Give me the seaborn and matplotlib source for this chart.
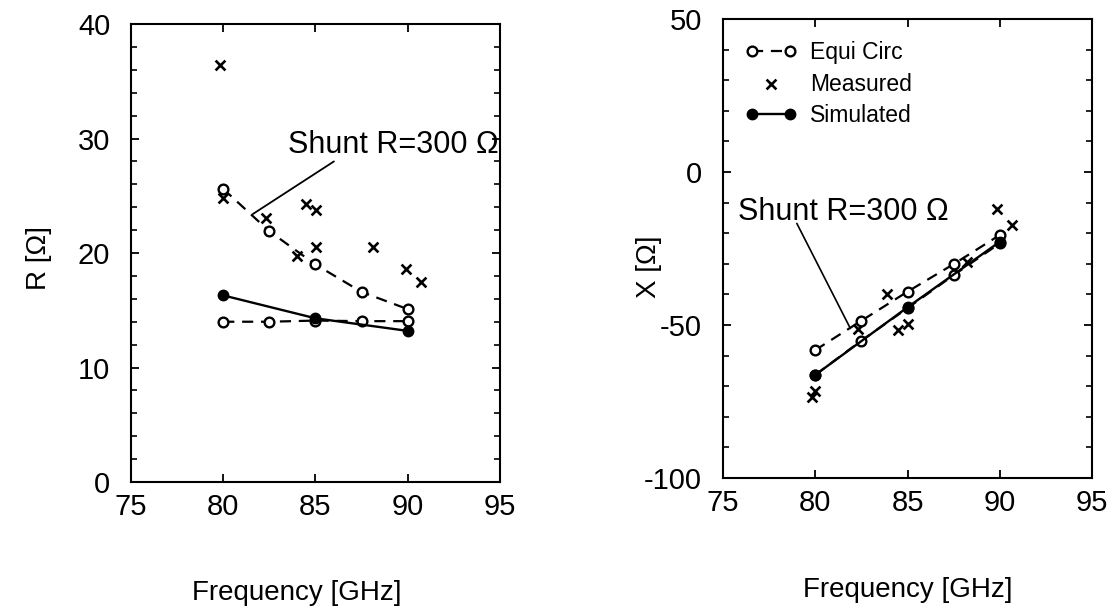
import matplotlib
matplotlib.use("Agg")
import matplotlib.pyplot as plt
from matplotlib.ticker import MultipleLocator
import seaborn as sns

# --- data ---
freq_eq = [80, 82.5, 85, 87.5, 90]
freq_sim = [80, 85, 90]

# left panel: R [Ohm]
r_eq_upper = [25.6, 21.9, 19.0, 16.6, 15.1]
r_eq_lower = [14.0, 14.0, 14.1, 14.05, 14.05]
r_sim = [16.3, 14.3, 13.2]
freq_meas_r = [79.8, 80.0, 82.3, 84.0, 84.5, 85.05, 85.05, 88.1, 89.9, 90.7]
r_meas = [36.4, 24.8, 23.1, 19.7, 24.3, 23.8, 20.5, 20.55, 18.6, 17.5]

# right panel: X [Ohm]
x_eq_upper = [-58.2, -48.6, -39.1, -30.1, -20.6]
x_eq_lower = [-66.3, -55.1, -44.5, -33.7, -23.3]
x_sim = [-66.3, -44.2, -22.8]
freq_meas_x = [79.8, 80.0, 82.3, 83.9, 84.5, 85.05, 88.2, 89.85, 90.65]
x_meas = [-73.4, -71.5, -51.4, -39.9, -51.6, -49.7, -29.5, -12.2, -17.3]

sns.set_style("ticks")
plt.rcParams["font.family"] = ["Liberation Sans", "DejaVu Sans"]
plt.rcParams["axes.unicode_minus"] = False
for key in ("text.color", "axes.labelcolor", "xtick.color", "ytick.color",
            "axes.edgecolor"):
    plt.rcParams[key] = "black"

fig = plt.figure(figsize=(11.11, 6.07), dpi=100)
ax1 = fig.add_axes([0.1179, 0.2059, 0.3321, 0.7545])
ax2 = fig.add_axes([0.6508, 0.2125, 0.3321, 0.7562])

eq_kws = dict(color="black", lw=1.6, linestyle=(0, (5, 3.5)), marker="o",
              markersize=7, markerfacecolor="white", markeredgecolor="black",
              markeredgewidth=1.7, estimator=None, errorbar=None, sort=False,
              legend=False)
sim_kws = dict(color="black", lw=1.7, marker="o", markersize=7.5,
               markerfacecolor="black", markeredgecolor="black",
               markeredgewidth=1.0, estimator=None, errorbar=None, sort=False,
               legend=False)
meas_kws = dict(color="black", marker="x", s=50, linewidth=1.9, legend=False)


def draw_panel(ax, eq_up, eq_low, sim, fm, meas):
    sns.lineplot(x=freq_eq, y=eq_up, ax=ax, label="Equi Circ", **eq_kws)
    sns.scatterplot(x=fm, y=meas, ax=ax, label="Measured", **meas_kws)
    sns.lineplot(x=freq_eq, y=eq_low, ax=ax, label="_nolegend_", **eq_kws)
    sns.lineplot(x=freq_sim, y=sim, ax=ax, label="Simulated", **sim_kws)


draw_panel(ax1, r_eq_upper, r_eq_lower, r_sim, freq_meas_r, r_meas)
draw_panel(ax2, x_eq_upper, x_eq_lower, x_sim, freq_meas_x, x_meas)

ax1.set_xlim(75, 95)
ax1.set_ylim(0, 40)
ax1.yaxis.set_major_locator(MultipleLocator(10))
ax1.yaxis.set_minor_locator(MultipleLocator(2))
ax2.set_xlim(75, 95)
ax2.set_ylim(-100, 50)
ax2.yaxis.set_major_locator(MultipleLocator(50))
ax2.yaxis.set_minor_locator(MultipleLocator(10))

for ax in (ax1, ax2):
    ax.xaxis.set_major_locator(MultipleLocator(5))
    for sp in ax.spines.values():
        sp.set_visible(True)
        sp.set_linewidth(1.5)
        sp.set_color("black")
    ax.tick_params(axis="both", which="major", direction="in", length=6,
                   width=1.3, top=True, right=True, labelsize=21,
                   colors="black")
    ax.tick_params(axis="x", which="major", pad=8)
    ax.tick_params(axis="y", which="major", pad=15)
    ax.tick_params(axis="y", which="minor", direction="in", length=4.5,
                   width=1.2, left=True, right=True, colors="black")
    ax.set_xlabel("Frequency [GHz]", fontsize=20)

ax1.set_ylabel("R [\u03a9]", fontsize=20)
ax2.set_ylabel("X [\u03a9]", fontsize=20)
ax1.xaxis.set_label_coords(0.45, -0.215)
ax2.xaxis.set_label_coords(0.5, -0.215)
ax1.yaxis.set_label_coords(-0.215, 0.49)
ax2.yaxis.set_label_coords(-0.165, 0.46)

# annotations
ax1.text(83.5, 29.4, "Shunt R=300 \u03a9", fontsize=22, va="center", ha="left")
ax1.annotate("", xy=(81.6, 23.4), xytext=(86.0, 28.0),
             arrowprops=dict(arrowstyle="-", lw=1.3, color="black",
                             shrinkA=0, shrinkB=0))
ax2.text(75.8, -13.2, "Shunt R=300 \u03a9", fontsize=22, va="center", ha="left")
ax2.annotate("", xy=(81.9, -51.1), xytext=(79.0, -16.8),
             arrowprops=dict(arrowstyle="-", lw=1.2, color="black",
                             shrinkA=0, shrinkB=0))

ax2.legend(loc="upper left", bbox_to_anchor=(0.06, 0.952), frameon=False,
           fontsize=16.5, handlelength=2.25, handletextpad=0.57,
           labelspacing=0.37, borderpad=0, borderaxespad=0,
           numpoints=2, scatterpoints=1)

fig.savefig("out.png", dpi=100)
